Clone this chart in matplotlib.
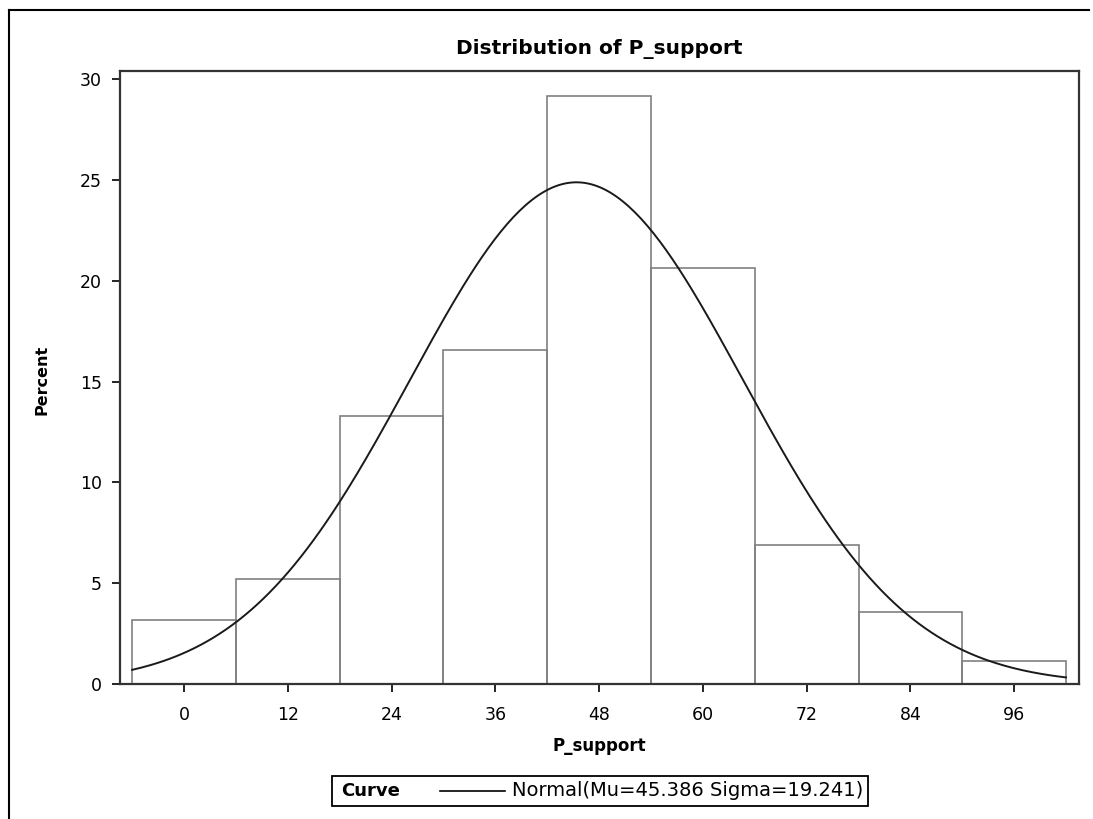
import matplotlib
matplotlib.use("Agg")
import matplotlib.pyplot as plt
import numpy as np
from matplotlib.lines import Line2D
from matplotlib.patches import Rectangle

# histogram bins (midpoints) and percent per bin
midpoints = [0, 12, 24, 36, 48, 60, 72, 84, 96]
percents = [3.17, 5.2, 13.29, 16.56, 29.15, 20.61, 6.89, 3.58, 1.16]
bin_width = 12

# fitted normal curve parameters
mu = 45.386
sigma = 19.241

fig = plt.figure(figsize=(10.93, 8.19), dpi=100)
ax = fig.add_axes([0.1098, 0.1648, 0.8774, 0.7485])

ax.bar(midpoints, percents, width=bin_width, fill=False,
       edgecolor="#808080", linewidth=1.2)

lo = midpoints[0] - bin_width / 2
hi = midpoints[-1] + bin_width / 2
xs = np.linspace(lo, hi, 300)
ys = 100 * bin_width * np.exp(-0.5 * ((xs - mu) / sigma) ** 2) / (sigma * np.sqrt(2 * np.pi))
ax.plot(xs, ys, color="#1a1a1a", linewidth=1.4)

ax.set_xlim(-7.4, 103.5)
ax.set_ylim(0, 30.4)
ax.set_xticks(midpoints)
ax.set_yticks([0, 5, 10, 15, 20, 25, 30])
ax.tick_params(direction="out", length=6, width=1.2, labelsize=12.5, pad=7)
ax.tick_params(axis="x", pad=10)
for s in ax.spines.values():
    s.set_linewidth(1.6)
    s.set_color("#333333")

ax.set_title("Distribution of P_support", fontsize=14.5, fontweight="bold", pad=12)
ax.set_xlabel("P_support", fontsize=12, fontweight="bold", va="center")
ax.set_ylabel("Percent", fontsize=11.5, fontweight="bold", va="center")
ax.xaxis.set_label_coords(0.5, -0.101)
ax.yaxis.set_label_coords(-0.081, 0.496)

# legend box below the plot
W, H = 1093, 819
fig.patches.append(Rectangle((332 / W, 1 - 806 / H), (868 - 332) / W, 30 / H,
                             transform=fig.transFigure, fill=False,
                             edgecolor="black", linewidth=1.3))
fig.text(341 / W, 1 - 791 / H, "Curve", fontsize=13, fontweight="bold", va="center")
fig.lines.append(Line2D([440 / W, 505 / W], [1 - 791 / H, 1 - 791 / H],
                        transform=fig.transFigure, color="black", linewidth=1.2))
fig.text(512 / W, 1 - 791 / H, "Normal(Mu=45.386 Sigma=19.241)", fontsize=14, va="center")

# outer frame (top and left edges)
fig.lines.append(Line2D([8.5 / W, 1089 / W], [1 - 9.5 / H, 1 - 9.5 / H],
                        transform=fig.transFigure, color="black", linewidth=1.5))
fig.lines.append(Line2D([8.5 / W, 8.5 / W], [1 - 9.5 / H, 0],
                        transform=fig.transFigure, color="black", linewidth=1.5))

fig.savefig("out.png", dpi=100)
plt.close(fig)
